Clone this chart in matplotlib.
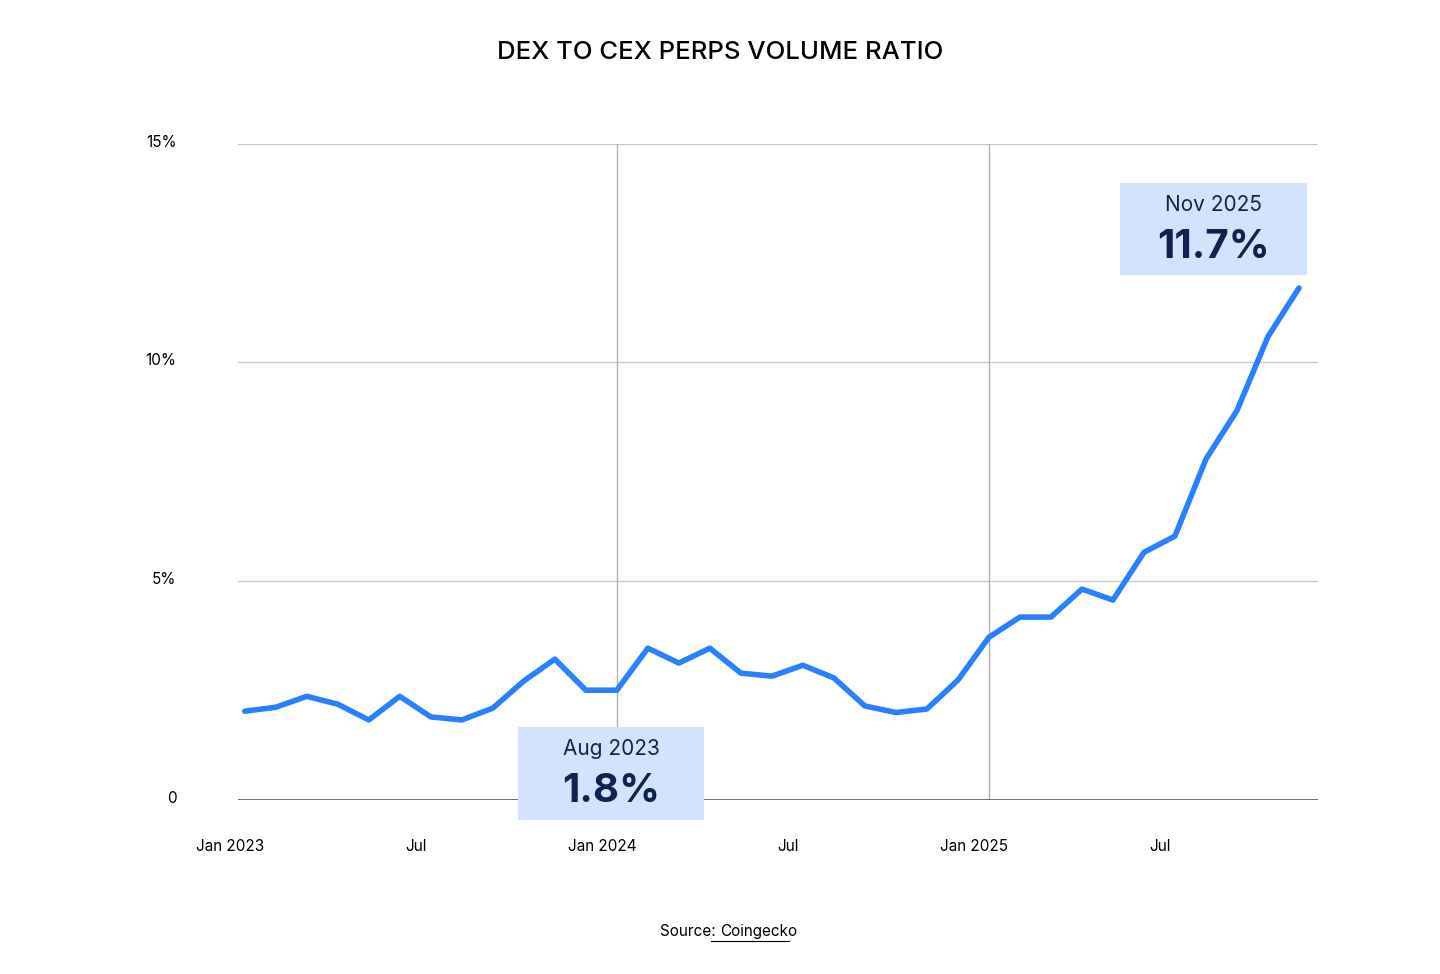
import matplotlib.pyplot as plt
import matplotlib.transforms as mtransforms
from matplotlib.patches import Rectangle

plt.rcParams['font.family'] = ['Inter', 'DejaVu Sans']

# monthly DEX/CEX perps volume ratio, Jan 2023 .. Nov 2025 (%)
months = list(range(35))
ratio = [2.03, 2.12, 2.37, 2.19, 1.83, 2.37, 1.90, 1.83, 2.10, 2.72, 3.22, 2.51,
         2.51, 3.47, 3.13, 3.47, 2.90, 2.83, 3.08, 2.79, 2.15, 2.00, 2.08, 2.74,
         3.72, 4.18, 4.18, 4.82, 4.57, 5.66, 6.03, 7.79, 8.90, 10.59, 11.70]
tick_pos = [0, 6, 12, 18, 24, 30]
tick_labels = ['Jan 2023', 'Jul', 'Jan 2024', 'Jul', 'Jan 2025', 'Jul']
y_ticks = [0, 5, 10, 15]
y_labels = ['0', '5%', '10%', '15%']

fig = plt.figure(figsize=(14.4, 9.74), dpi=100)
ax = fig.add_axes([0.165, 0.1786, 0.75, 0.674])
ax.plot(months, ratio, color='#2a7fff', lw=4, solid_capstyle='round', zorder=3)
ax.set_xlim(-0.23, 34.6)
ax.set_ylim(0, 15)

for y in y_ticks[1:]:
    ax.axhline(y, color='#c8c8c8', lw=1, zorder=1)
ax.axhline(0, color='#555555', lw=1.2, zorder=2)
for x in [12, 24]:
    ax.axvline(x, color='#b0b0b0', lw=1, zorder=1)

for s in ax.spines.values():
    s.set_visible(False)
ax.set_yticks(y_ticks)
ax.set_yticklabels(y_labels, fontsize=11)
ax.tick_params(axis='y', length=0, pad=62)
ax.set_xticks(tick_pos)
ax.set_xticklabels(tick_labels, fontsize=11)
ax.tick_params(axis='x', length=0, pad=28)

# x labels sit a little left of their month
off = mtransforms.ScaledTranslation(-15 / 100, 0, fig.dpi_scale_trans)
for lbl in ax.get_xticklabels():
    lbl.set_transform(lbl.get_transform() + off)
# y labels: right edge near x=175px
yoff = mtransforms.ScaledTranslation(25 / 100, 3 / 100, fig.dpi_scale_trans)
for lbl in ax.get_yticklabels():
    lbl.set_transform(lbl.get_transform() + yoff)

fig.text(0.5, 0.949 - 3 / 974, 'DEX TO CEX PERPS VOLUME RATIO', ha='center', va='center',
         fontsize=18.5, fontweight='medium')
fig.text(0.5, 0.044, 'Source: ', ha='right', va='center', fontsize=11)
fig.text(0.5, 0.044, 'Coingecko', ha='left', va='center', fontsize=11)
fig.add_artist(plt.Line2D([711 / 1440, 789 / 1440], [0.034, 0.034], color='black', lw=0.8))

box_color = '#d3e3fd'
navy = '#0f2350'
W, H = 1440, 974
for (x0, x1, ytop, ybot, small, big) in [(518, 704, 727, 820, 'Aug 2023', '1.8%'),
                                          (1120, 1307, 183, 275, 'Nov 2025', '11.7%')]:
    fig.add_artist(Rectangle((x0 / W, 1 - ybot / H), (x1 - x0) / W, (ybot - ytop) / H,
                             facecolor=box_color, edgecolor='none', zorder=5))
    cx = (x0 + x1) / 2 / W
    fig.text(cx, 1 - (ytop + 22) / H, small, ha='center', va='center', fontsize=15,
             color=navy, zorder=6)
    fig.text(cx, 1 - (ytop + 64) / H, big, ha='center', va='center', fontsize=29,
             fontweight='bold', color=navy, zorder=6)

fig.savefig('out.png', dpi=100, facecolor='white')
